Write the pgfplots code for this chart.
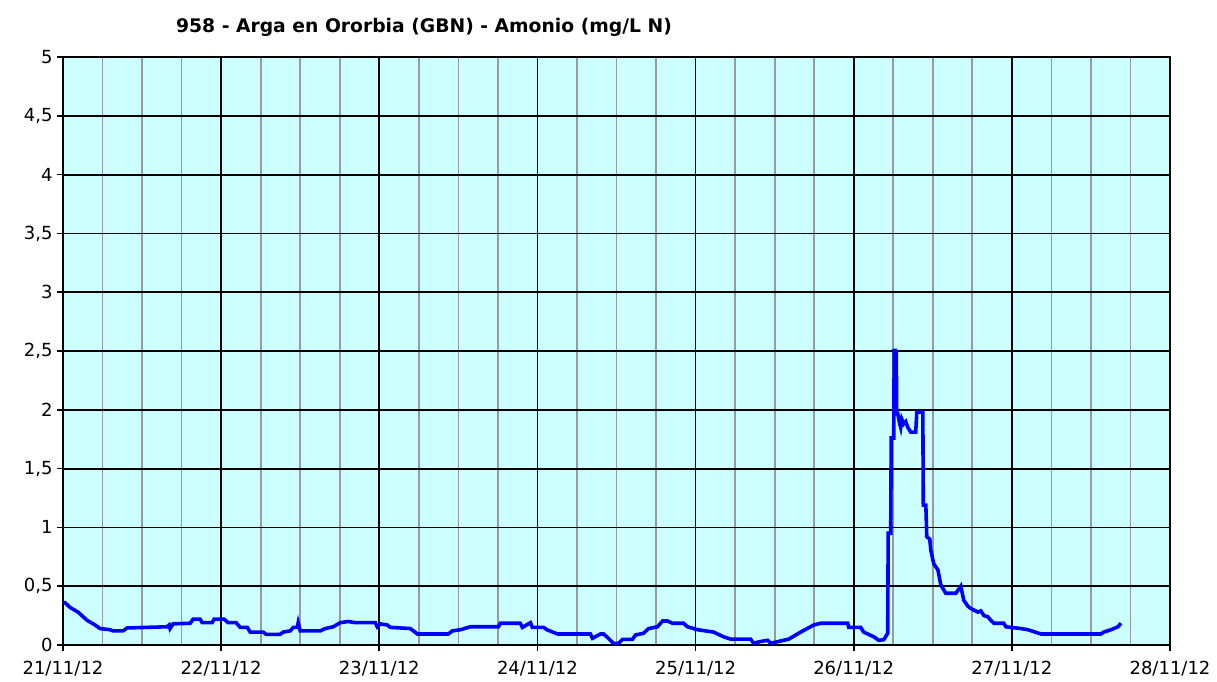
\documentclass[border=0pt]{standalone}
\usepackage{fontspec}
\setmainfont{DejaVu Sans}
\usepackage{pgfplots}
\pgfplotsset{compat=1.18}
\definecolor{bgc}{HTML}{CCFFFF}
\definecolor{lnc}{HTML}{0000FF}
\definecolor{mgc}{HTML}{9A9A9A}
\begin{document}
\begin{tikzpicture}
\path[use as bounding box] (-63pt,-36pt) rectangle (1154pt,645pt);
\begin{axis}[
  at={(0pt,0pt)}, anchor=south west,
  scale only axis, width=1107pt, height=588pt,
  xmin=0, xmax=7, ymin=0, ymax=5,
  xtick={0,1,2,3,4,5,6,7},
  xticklabels={21/11/12,22/11/12,23/11/12,24/11/12,25/11/12,26/11/12,27/11/12,28/11/12},
  minor x tick num=3,
  ytick={0,0.5,1,1.5,2,2.5,3,3.5,4,4.5,5},
  yticklabels={0,{0,5},1,{1,5},2,{2,5},3,{3,5},4,{4,5},5},
  grid=both,
  major grid style={black, line width=1.8pt},
  minor grid style={mgc, line width=1.7pt},
  axis background/.style={fill=bgc},
  tick align=outside, major tick length=6pt, minor tick length=0pt,
  tick pos=left,
  tick style={black, line width=1.6pt},
  axis line style={black, line width=1.8pt},
  ticklabel style={font=\fontsize{18}{20}\selectfont, text=black},
  xticklabel style={yshift=-7pt},
  yticklabel style={xshift=-1pt},
]
\addplot[color=lnc, line width=3.6pt, mark=none] coordinates {
(0.000,0.36) (0.013,0.36) (0.044,0.32) (0.095,0.28) (0.152,0.21) (0.203,0.17)
(0.234,0.14) (0.297,0.13) (0.316,0.12) (0.380,0.12) (0.405,0.145) (0.658,0.155)
(0.671,0.17) (0.677,0.14) (0.696,0.18) (0.804,0.185) (0.823,0.22) (0.867,0.22)
(0.880,0.19) (0.943,0.19) (0.956,0.22) (1.019,0.22) (1.044,0.19) (1.095,0.19)
(1.120,0.15) (1.165,0.15) (1.184,0.11) (1.266,0.11) (1.285,0.09) (1.373,0.09)
(1.392,0.11) (1.437,0.12) (1.456,0.15) (1.481,0.15) (1.487,0.19) (1.500,0.12)
(1.627,0.12) (1.658,0.14) (1.709,0.155) (1.753,0.19) (1.804,0.20) (1.848,0.19)
(1.975,0.19) (1.987,0.155) (2.006,0.18) (2.051,0.17) (2.070,0.15) (2.196,0.14)
(2.241,0.094) (2.437,0.094) (2.462,0.12) (2.513,0.13) (2.576,0.155) (2.753,0.155)
(2.766,0.185) (2.892,0.185) (2.905,0.15) (2.956,0.19) (2.968,0.15) (3.038,0.15)
(3.063,0.128) (3.127,0.094) (3.335,0.094) (3.348,0.057) (3.399,0.094) (3.418,0.094)
(3.449,0.057) (3.481,0.014) (3.513,0.014) (3.538,0.048) (3.601,0.048) (3.620,0.085)
(3.671,0.10) (3.703,0.14) (3.759,0.155) (3.791,0.204) (3.823,0.204) (3.854,0.185)
(3.924,0.185) (3.949,0.155) (4.013,0.13) (4.114,0.11) (4.177,0.07) (4.222,0.05)
(4.348,0.05) (4.367,0.015) (4.411,0.03) (4.456,0.04) (4.475,0.015) (4.525,0.03)
(4.589,0.05) (4.665,0.11) (4.747,0.17) (4.791,0.185) (4.962,0.185) (4.968,0.15)
(5.044,0.15) (5.063,0.11) (5.127,0.07) (5.158,0.04) (5.190,0.045) (5.215,0.10)
(5.218,0.95) (5.234,0.95) (5.237,1.76) (5.253,1.76) (5.256,2.52) (5.260,1.95)
(5.263,2.52) (5.266,1.95) (5.269,2.50) (5.272,1.97) (5.278,1.97) (5.291,1.88)
(5.297,1.85) (5.304,1.92) (5.316,1.88) (5.329,1.90) (5.342,1.85) (5.361,1.81)
(5.392,1.81) (5.399,1.98) (5.437,1.98) (5.440,1.19) (5.456,1.19) (5.462,0.92)
(5.481,0.90) (5.487,0.81) (5.506,0.69) (5.532,0.64) (5.551,0.51) (5.582,0.44)
(5.646,0.44) (5.677,0.50) (5.696,0.38) (5.722,0.33) (5.741,0.31) (5.785,0.28)
(5.804,0.29) (5.823,0.25) (5.848,0.24) (5.867,0.21) (5.886,0.185) (5.949,0.185)
(5.962,0.155) (6.057,0.14) (6.101,0.13) (6.184,0.094) (6.563,0.094) (6.582,0.11)
(6.627,0.13) (6.671,0.155) (6.690,0.185)
};
\end{axis}
\node[anchor=base, inner sep=0pt, font=\bfseries\fontsize{18.75}{20}\selectfont] at (361pt,612pt) {958 - Arga en Ororbia (GBN) - Amonio (mg/L N)};
\end{tikzpicture}
\end{document}
